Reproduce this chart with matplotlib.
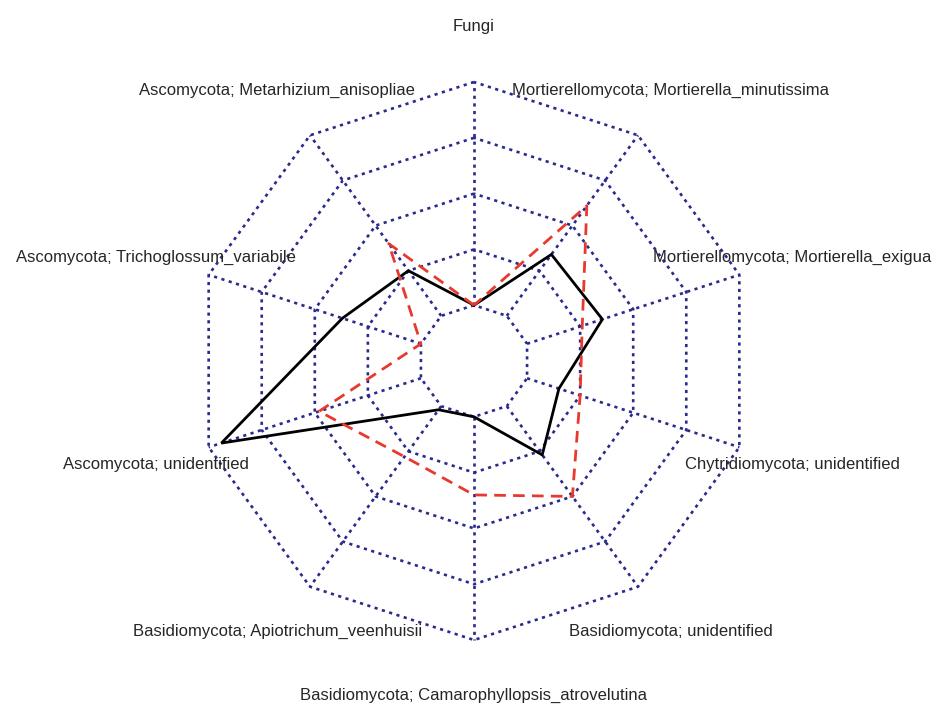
import numpy as np
import matplotlib
matplotlib.use("Agg")
import matplotlib.pyplot as plt

# Axis labels, counter-clockwise from the top
labels = [
    "Fungi",
    "Ascomycota; Metarhizium_anisopliae",
    "Ascomycota; Trichoglossum_variabile",
    "Ascomycota; unidentified",
    "Basidiomycota; Apiotrichum_veenhuisii",
    "Basidiomycota; Camarophyllopsis_atrovelutina",
    "Basidiomycota; unidentified",
    "Chytridiomycota; unidentified",
    "Mortierellomycota; Mortierella_exigua",
    "Mortierellomycota; Mortierella_minutissima",
]

# Scaled values (0 = axis minimum, 1 = axis maximum)
group_black = [0.00, 0.25, 0.37, 0.94, 0.02, 0.00, 0.27, 0.15, 0.355, 0.34]
group_red = [0.00, 0.40, 0.00, 0.48, 0.28, 0.35, 0.50, 0.25, 0.26, 0.61]

seg = 4          # number of grid segments
cgap = 1         # empty core (fmsb-style, centre not zero)

n = len(labels)
theta = np.pi / 2 + 2 * np.pi * np.arange(n) / n
xx, yy = np.cos(theta), np.sin(theta)

W, H = 934, 705
cx, cy, R = 474, 361, 279
fig = plt.figure(figsize=(W / 100, H / 100), dpi=100)
ax = fig.add_axes([0, 0, 1, 1])
ax.set_xlim(-cx / R, (W - cx) / R)
ax.set_ylim(-(H - cy) / R, cy / R)
ax.set_aspect("equal")
ax.axis("off")

grid_kw = dict(color="#2a2a8c", lw=1.9, linestyle=(0, (1.2, 1.7)),
               dash_capstyle="butt", zorder=1)

# concentric polygons
for i in range(seg + 1):
    f = (i + cgap) / (seg + cgap)
    ax.plot(np.append(xx, xx[0]) * f, np.append(yy, yy[0]) * f, **grid_kw)

# radial axes from the inner ring outwards
for x, y in zip(xx, yy):
    f0 = cgap / (seg + cgap)
    ax.plot([x * f0, x], [y * f0, y], **grid_kw)


def to_radius(v):
    return (np.asarray(v) * seg + cgap) / (seg + cgap)


for vals, col, ls in [(group_black, "black", "-"),
                      (group_red, "#e8392f", (0, (4.2, 2.6)))]:
    r = to_radius(vals)
    px, py = np.append(xx * r, xx[0] * r[0]), np.append(yy * r, yy[0] * r[0])
    ax.plot(px, py, color=col, lw=2.0, linestyle=ls, zorder=3,
            solid_joinstyle="miter")

for lab, x, y in zip(labels, xx, yy):
    ax.text(x * 1.2, y * 1.2, lab, ha="center", va="center",
            fontsize=12, family="Liberation Sans", color="#262626")

fig.savefig("out.png", dpi=100)
